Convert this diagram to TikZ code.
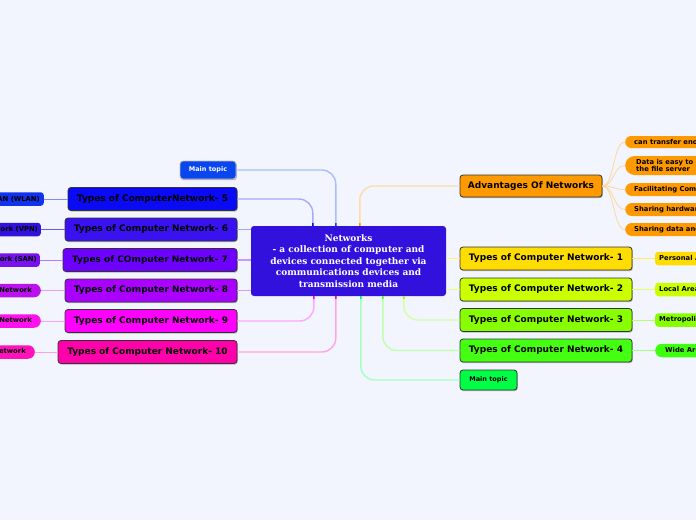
\documentclass[tikz,border=0pt]{standalone}
\usepackage{fontspec}
\setmainfont{DejaVu Sans}
\newfontfamily\serifb{DejaVu Serif}
\usetikzlibrary{shadows,calc}
\definecolor{bg}{HTML}{F2F5FD}
\definecolor{ccen}{HTML}{3311DD}
\definecolor{cmtb}{HTML}{0A46F0}
\definecolor{cfive}{HTML}{0A0AF5}
\definecolor{csix}{HTML}{3A12F0}
\definecolor{cseven}{HTML}{6E00FF}
\definecolor{ceight}{HTML}{AA00FF}
\definecolor{cnine}{HTML}{FF00FF}
\definecolor{cten}{HTML}{FF00AA}
\definecolor{cadv}{HTML}{FF9900}
\definecolor{cone}{HTML}{FFDD00}
\definecolor{ctwo}{HTML}{CCFF00}
\definecolor{cthree}{HTML}{88FF00}
\definecolor{cfour}{HTML}{44FF11}
\definecolor{cmtg}{HTML}{00FF44}
\definecolor{lwlan}{HTML}{1133EE}
\definecolor{lvpn}{HTML}{3311DD}
\definecolor{lsan}{HTML}{7711EE}
\definecolor{leight}{HTML}{BB11EE}
\definecolor{lnine}{HTML}{FF11EE}
\definecolor{lten}{HTML}{FF11BB}
\tikzset{
  mainbox/.style={draw=black!80, line width=0.8pt, rounded corners=3pt,
    font=\bfseries\fontsize{9}{10}\selectfont, text=black,
    minimum height=23pt, inner sep=0pt,
    drop shadow={shadow xshift=0.8pt, shadow yshift=-1.2pt, opacity=0.25, fill=black}},
  topicbox/.style={mainbox, font=\bfseries\fontsize{6.5}{7.5}\selectfont, minimum height=19pt},
  leaf/.style={rounded corners=3pt, font=\bfseries\fontsize{6.8}{7.8}\selectfont,
    inner xsep=4pt, inner ysep=0pt, minimum height=13.5pt, text=black},
  pill/.style={leaf, rounded corners=6.7pt},
  thin/.style={line width=1pt},
  advline/.style={line width=0.8pt, cadv!40!white},
}
\newcommand\twotone[4]{%
  \draw[line width=1.4pt, #1!35!white, rounded corners=14pt] (#2) #4 (#3);
  \begin{scope}
    \clip ($(#2)+(-20,2)$) rectangle ($(#2|-#3)+(20,-2)$);
    \draw[line width=1.4pt, #1, rounded corners=14pt] (#2) #4 (#3);
  \end{scope}}
\begin{document}
\begin{tikzpicture}[x=1pt,y=-1pt]
\useasboundingbox (0,0) rectangle (696,520);
\fill[bg] (0,0) rectangle (696,520);
\clip (0,0) rectangle (696,520);

% central node
\node[fill=ccen, rounded corners=3pt, minimum width=195pt, minimum height=70pt,
  inner sep=0pt, text=white, align=center,
  font=\serifb\bfseries\fontsize{9}{11.4}\selectfont] (cen) at (348.5,261)
  {Networks\\- a collection of computer and\\devices connected together via\\communications devices and\\transmission media};

% left main nodes
\node[topicbox, fill=cmtb, draw=black!25, text=white, minimum width=56pt, minimum height=18pt] (mtb) at (208,170) {Main topic};
\node[mainbox, fill=cfive, minimum width=169pt] (n5) at (152.5,199) {Types of ComputerNetwork- 5};
\node[mainbox, fill=csix, minimum width=172pt] (n6) at (151,229.5) {Types of Computer Network- 6};
\node[mainbox, fill=cseven, minimum width=174pt] (n7) at (150,260) {Types of COmputer Network- 7};
\node[mainbox, fill=ceight, minimum width=172pt] (n8) at (151,290.5) {Types of Computer Network- 8};
\node[mainbox, fill=cnine, minimum width=172pt] (n9) at (151,321) {Types of Computer Network- 9};
\node[mainbox, fill=cten, minimum width=179pt] (n10) at (147.5,352) {Types of Computer Network- 10};

% right main nodes
\node[mainbox, fill=cadv, minimum width=142pt, minimum height=22pt] (adv) at (531,186) {Advantages Of Networks};
\node[mainbox, fill=cone, minimum width=172pt] (n1) at (546,258.5) {Types of Computer Network- 1};
\node[mainbox, fill=ctwo, minimum width=172pt] (n2) at (546,289.5) {Types of Computer Network- 2};
\node[mainbox, fill=cthree, minimum width=172pt] (n3) at (546,320) {Types of Computer Network- 3};
\node[mainbox, fill=cfour, minimum width=172pt] (n4) at (546,350.5) {Types of Computer Network- 4};
\node[topicbox, fill=cmtg, minimum width=57pt, minimum height=20pt] (mtg) at (488.5,380) {Main topic};

% left leaves
\node[leaf, fill=lwlan, anchor=east] (wlan) at (44,199) {Wireless LAN (WLAN)};
\node[leaf, fill=lvpn, anchor=east, inner xsep=3pt] (vpn) at (41,229.5) {Virtual Private Network (VPN)};
\node[leaf, fill=lsan, anchor=east, inner xsep=3pt] (san) at (40,260) {Storage Area Network (SAN)};
\node[pill, fill=leight, anchor=east, inner xsep=9pt] (l8) at (41,290.5) {Campus Area Network};
\node[pill, fill=lnine, anchor=east, inner xsep=9pt] (l9) at (41,321) {Enterprise Private Network};
\node[pill, fill=lten, anchor=east, inner xsep=9pt] (l10) at (35,352) {System Area Network};

% right leaves
\node[leaf, fill=cone, anchor=west] (pan) at (655,258.5) {Personal Area Network (PAN)};
\node[leaf, fill=ctwo, anchor=west] (lan) at (655,289.5) {Local Area Network (LAN)};
\node[leaf, fill=cthree, anchor=west] (man) at (655,320) {Metropolitan Area Network (MAN)};
\node[pill, fill=cfour!90!green, anchor=west, inner xsep=10pt] (wan) at (655,350.5) {Wide Area Network (WAN)};

% advantages leaves
\node[pill, fill=cadv, anchor=west, minimum height=12pt, rounded corners=6pt, inner xsep=9pt] (a1) at (625,142) {can transfer enormous files};
\node[pill, fill=cadv, anchor=west, minimum height=19pt, rounded corners=9.5pt, inner xsep=11pt, align=left,
  font=\bfseries\fontsize{6.8}{7.8}\selectfont] (a2) at (625,165.5) {Data is easy to backup as all the data\\the file server};
\node[pill, fill=cadv, anchor=west, minimum height=13pt, inner xsep=9pt] (a3) at (625,189.5) {Facilitating Communication};
\node[pill, fill=cadv, anchor=west, minimum height=13pt, inner xsep=9pt] (a4) at (625,209.5) {Sharing hardware devices};
\node[pill, fill=cadv, anchor=west, minimum height=13pt, inner xsep=9pt] (a5) at (625,229.5) {Sharing data and information};

% central connectors (top)
\twotone{cmtb}{$(cen.north west)+(85,0)$}{mtb.east}{|-}
\twotone{cfive}{$(cen.north west)+(62,0)$}{n5.east}{|-}
\twotone{cadv}{$(cen.north west)+(109,0)$}{adv.west}{|-}
% side connectors
\draw[line width=1.2pt, csix!40!white] (cen.west|-n6.east) -- (n6.east);
\draw[line width=1.2pt, cseven!40!white] (cen.west|-n7.east) -- (n7.east);
\draw[line width=1.2pt, ceight!40!white] (cen.west|-n8.east) -- (n8.east);
\draw[line width=1.2pt, cone!50!white] (cen.east|-n1.west) -- (n1.west);
\draw[line width=1.2pt, ctwo!50!white] (cen.east|-n2.west) -- (n2.west);
% bottom connectors
\twotone{cnine}{$(cen.south west)+(63,0)$}{n9.east}{|-}
\twotone{cten}{$(cen.south west)+(85,0)$}{n10.east}{|-}
\twotone{cmtg}{$(cen.south west)+(110,0)$}{mtg.west}{|-}
\twotone{cfour}{$(cen.south west)+(132,0)$}{n4.west}{|-}
\twotone{cthree}{$(cen.south west)+(153,0)$}{n3.west}{|-}

% leaf connectors left
\draw[thin, lwlan!55!white] (wlan.east) -- (n5.west);
\draw[thin, lvpn!70!white] (vpn.east) -- (n6.west);
\draw[thin, lsan!55!white] (san.east) -- (n7.west);
\draw[thin, leight!40!white] (l8.east) -- (n8.west);
\draw[thin, lnine!40!white] (l9.east) -- (n9.west);
\draw[thin, lten!40!white] (l10.east) -- (n10.west);
% leaf connectors right
\draw[thin, cone!60!white] (n1.east) -- (pan.west);
\draw[thin, ctwo!60!white] (n2.east) -- (lan.west);
\draw[thin, cthree!60!white] (n3.east) -- (man.west);
\draw[thin, cfour!50!white] (n4.east) -- (wan.west);
% advantages
\foreach \a in {a1,a2,a3,a4,a5}{
  \draw[advline] (adv.east) .. controls ($(adv.east)+(12,0)$) and ($(\a.west)+(-12,0)$) .. (\a.west);
}
\end{tikzpicture}
\end{document}
